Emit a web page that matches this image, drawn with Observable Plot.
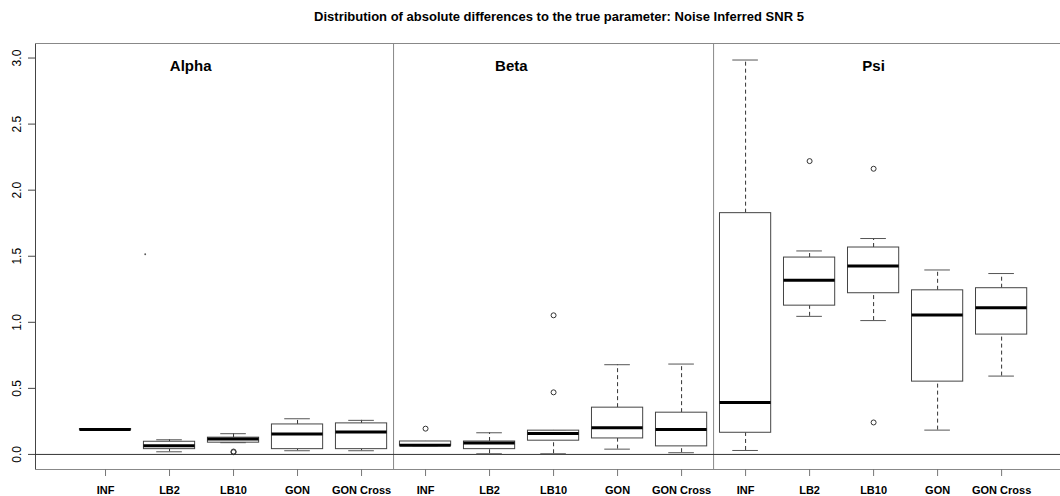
<!DOCTYPE html>
<html>
<head>
<meta charset="utf-8">
<script src="https://cdn.jsdelivr.net/npm/d3@7"></script>
<script src="https://cdn.jsdelivr.net/npm/@observablehq/plot@0.6"></script>
<style>
  html, body { margin: 0; padding: 0; background: #fff; }
  #wrap { position: relative; width: 1060px; height: 496px; overflow: hidden; font-family: "Liberation Sans", Arial, sans-serif; }
  #title { position: absolute; left: 41px; width: 1036px; top: 10px; text-align: center; font-weight: bold; font-size: 13px; line-height: 13px; color: #000; }
</style>
</head>
<body>
<div id="wrap"><div id="title">Distribution of absolute differences to the true parameter: Noise Inferred SNR 5</div></div>
<script>
// ---- data ----
const params = ["Alpha", "Beta", "Psi"];
const methods = ["INF", "LB2", "LB10", "GON", "GON Cross"];
const yTicks = [0, 0.5, 1.0, 1.5, 2.0, 2.5, 3.0];
const panelTitleX = [2.33, 7.34, 13.0];

const alphaLow  = [0.189, 0.020, 0.089, 0.028, 0.028];
const alphaQ1   = [0.186, 0.040, 0.089, 0.040, 0.040];
const alphaMed  = [0.189, 0.066, 0.116, 0.154, 0.169];
const alphaQ3   = [0.192, 0.096, 0.127, 0.227, 0.235];
const alphaHigh = [0.192, 0.111, 0.157, 0.270, 0.258];
const alphaOut  = [[], [], [0.017, 0.022], [], []];

const betaLow  = [0.066, 0.005, 0.005, 0.040, 0.013];
const betaQ1   = [0.066, 0.040, 0.104, 0.121, 0.061];
const betaMed  = [0.070, 0.086, 0.159, 0.202, 0.189];
const betaQ3   = [0.098, 0.098, 0.180, 0.354, 0.316];
const betaHigh = [0.098, 0.164, 0.180, 0.679, 0.684];
const betaOut  = [[0.195], [], [1.053, 0.470], [], []];

const psiLow  = [0.030, 1.045, 1.013, 0.184, 0.593];
const psiQ1   = [0.164, 1.126, 1.220, 0.551, 0.907];
const psiMed  = [0.394, 1.318, 1.427, 1.056, 1.111];
const psiQ3   = [1.826, 1.490, 1.566, 1.242, 1.258];
const psiHigh = [2.985, 1.540, 1.634, 1.396, 1.369];
const psiOut  = [[], [2.220], [2.162, 0.242], [], []];

// stray speck visible in the Alpha panel
const strayX = [1.62];
const strayY = [1.515];

// ---- build table ----
const stats = [
  [alphaLow, alphaQ1, alphaMed, alphaQ3, alphaHigh, alphaOut],
  [betaLow, betaQ1, betaMed, betaQ3, betaHigh, betaOut],
  [psiLow, psiQ1, psiMed, psiQ3, psiHigh, psiOut]
];
const boxes = [];
const outliers = [];
params.forEach((p, pi) => {
  const [lo, q1, md, q3, hi, out] = stats[pi];
  methods.forEach((m, mi) => {
    const pos = pi * 5 + mi + 1;
    boxes.push({param: p, method: m, pos, lo: lo[mi], q1: q1[mi], med: md[mi], q3: q3[mi], hi: hi[mi]});
    out[mi].forEach(v => outliers.push({pos, v}));
  });
});
const positions = boxes.map(d => d.pos);
const xDomain = [-0.094, 15.92];
const yDomain = [-0.114, 3.11];
const bw = 0.4, sw = 0.2;

const chart = Plot.plot({
  width: 1060,
  height: 496,
  marginLeft: 35,
  marginRight: 0,
  marginTop: 43,
  marginBottom: 27,
  style: {fontFamily: "'Liberation Sans', Arial, sans-serif", background: "transparent", color: "#000"},
  x: {type: "linear", domain: xDomain, axis: null},
  y: {type: "linear", domain: yDomain, axis: null},
  marks: [
    // frame
    Plot.ruleX([xDomain[0]], {stroke: "#444", strokeWidth: 1}),
    Plot.ruleY([yDomain[1]], {stroke: "#888", strokeWidth: 1}),
    Plot.ruleY([yDomain[0]], {stroke: "#888", strokeWidth: 1}),
    // panel dividers
    Plot.ruleX([5.5, 10.5], {stroke: "#888", strokeWidth: 1}),
    // zero line
    Plot.ruleY([0], {stroke: "#333", strokeWidth: 1}),
    // whiskers
    Plot.ruleX(boxes, {x: "pos", y1: "q3", y2: "hi", stroke: "#333", strokeDasharray: "4,3"}),
    Plot.ruleX(boxes, {x: "pos", y1: "lo", y2: "q1", stroke: "#333", strokeDasharray: "4,3"}),
    // staples
    Plot.ruleY(boxes, {y: "hi", x1: d => d.pos - sw, x2: d => d.pos + sw, stroke: "#555"}),
    Plot.ruleY(boxes, {y: "lo", x1: d => d.pos - sw, x2: d => d.pos + sw, stroke: "#555"}),
    // boxes
    Plot.rect(boxes, {x1: d => d.pos - bw, x2: d => d.pos + bw, y1: "q1", y2: "q3", fill: "white", stroke: "#444", strokeWidth: 1}),
    // medians
    Plot.ruleY(boxes, {y: "med", x1: d => d.pos - bw, x2: d => d.pos + bw, stroke: "#000", strokeWidth: 3}),
    // outliers
    Plot.dot(outliers, {x: "pos", y: "v", r: 2.5, stroke: "#333", fill: "none", strokeWidth: 1}),
    Plot.dot(strayX.map((x, i) => ({x, y: strayY[i]})), {x: "x", y: "y", r: 0.9, fill: "#555", stroke: "none"}),
    // panel titles
    Plot.text(params, {x: (d, i) => panelTitleX[i], y: 2.94, text: d => d, fontWeight: "bold", fontSize: 15, lineAnchor: "middle", textAnchor: "middle"}),
    // y axis ticks + labels
    Plot.axisY(yTicks, {tickSize: 7, tickFormat: () => "", label: null, stroke: "#444"}),
    Plot.text(yTicks, {y: d => d, frameAnchor: "left", dx: -18, rotate: -90, text: d => d.toFixed(1), fontSize: 12, textAnchor: "middle", lineAnchor: "middle", fill: "#000"}),
    // x axis
    Plot.axisX(positions, {tickSize: 7, tickPadding: 10, tickFormat: d => methods[(d - 1) % 5], label: null, fontSize: 11, fontWeight: "bold", stroke: "#777", anchor: "bottom"})
  ]
});
chart.style.position = "absolute";
chart.style.left = "0";
chart.style.top = "0";
document.getElementById("wrap").appendChild(chart);
</script>
</body>
</html>
